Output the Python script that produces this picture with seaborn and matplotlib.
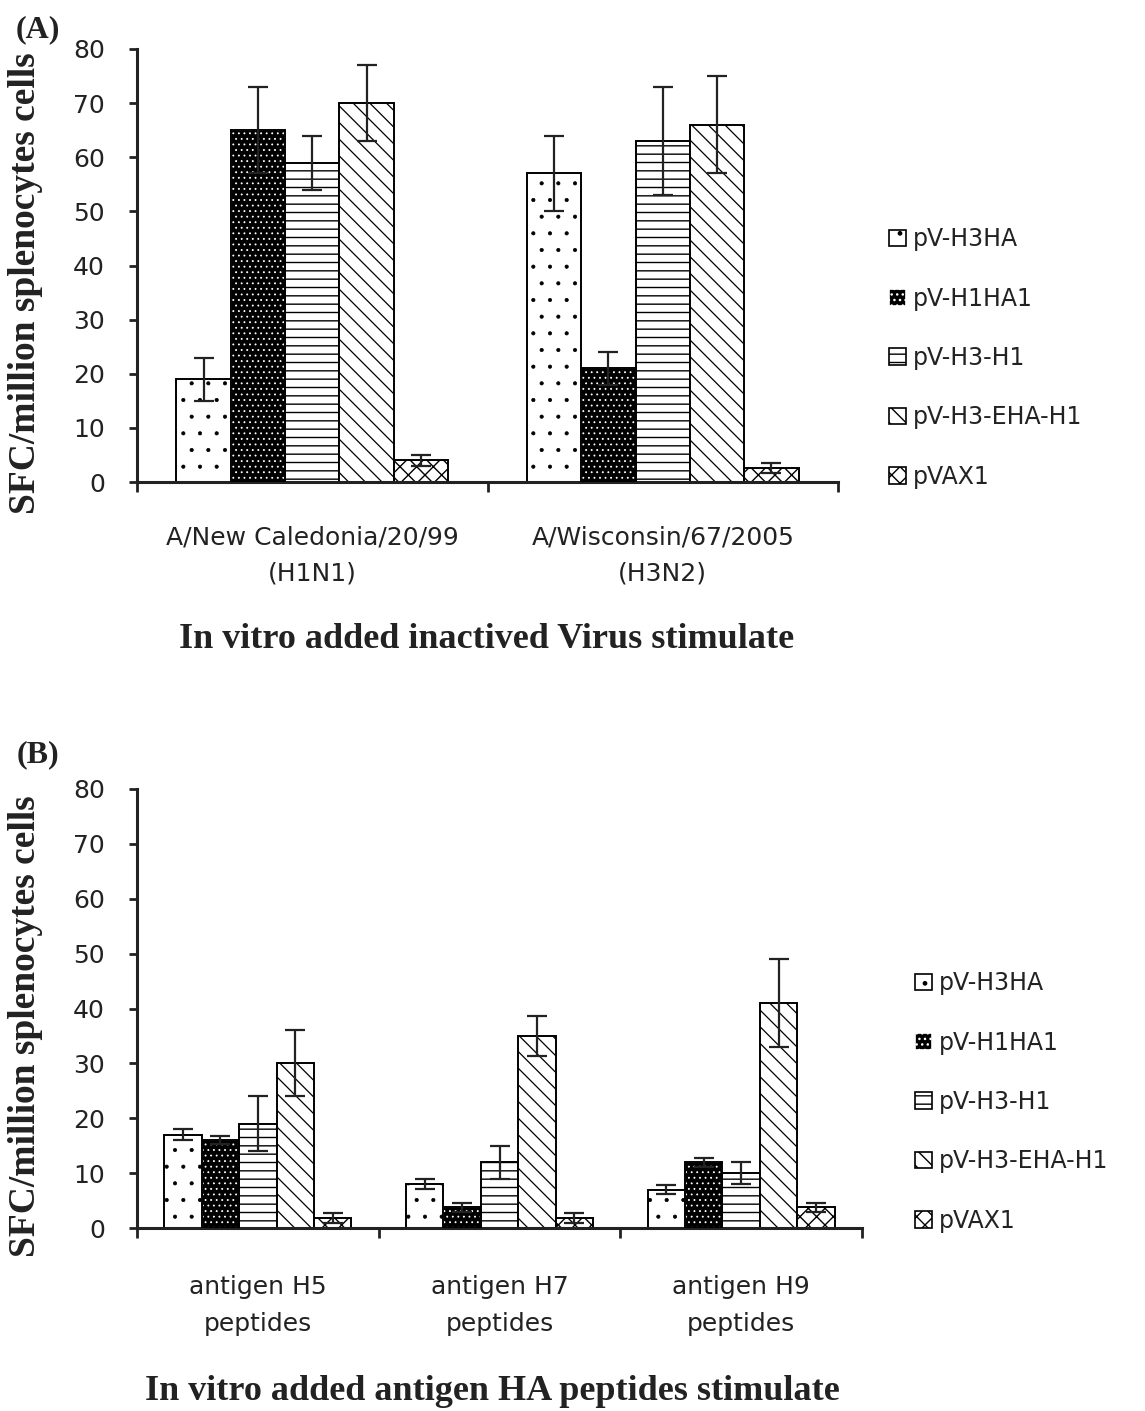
import numpy as np
import pandas as pd
import seaborn as sns
import matplotlib.pyplot as plt
from matplotlib.patches import Patch, Rectangle

vaccines = ["pV-H3HA", "pV-H1HA1", "pV-H3-H1", "pV-H3-EHA-H1", "pVAX1"]

# panel A - inactivated virus
virus_groups = ["A/New Caledonia/20/99\n(H1N1)", "A/Wisconsin/67/2005\n(H3N2)"]
virus_means = [[19, 57], [65, 21], [59, 63], [70, 66], [4, 2.6]]
virus_err = [[4, 7], [8, 3], [5, 10], [7, 9], [1, 0.9]]

# panel B - HA peptides
peptide_groups = ["antigen H5\npeptides", "antigen H7\npeptides", "antigen H9\npeptides"]
peptide_means = [[17, 8, 7], [16, 3.8, 12], [19, 12, 10], [30, 35, 41], [1.9, 1.9, 3.8]]
peptide_err = [[1, 0.9, 0.8], [0.7, 0.8, 0.8], [5, 3, 2], [6, 3.6, 8], [0.9, 0.9, 0.8]]

y_ticks = [0, 10, 20, 30, 40, 50, 60, 70, 80]

face = ["white", "black", "white", "white", "white"]
edge = ["black", "white", "black", "black", "black"]
hatch = [".", "...", "--", "\\\\", "xx"]
hatch_lw = [0.5, 0.6, 1.0, 0.9, 1.0]

sns.set_style("ticks")
plt.rcParams['font.family'] = ['DejaVu Sans']
plt.rcParams['hatch.linewidth'] = 1.0
serif = ['Liberation Serif', 'DejaVu Serif']
ink = "#222222"


def set_hlw(p, lw):
    if hasattr(p, "set_hatch_linewidth"):
        p.set_hatch_linewidth(lw)
    else:
        p._hatch_linewidth = lw


def draw_panel(ax, groups, means, errs, legend_anchor, xpad):
    rows = []
    for v, vals in zip(vaccines, means):
        for g, m in zip(groups, vals):
            rows.append({"group": g, "vaccine": v, "value": m})
    df = pd.DataFrame(rows)
    sns.barplot(data=df, x="group", y="value", hue="vaccine", order=groups,
                hue_order=vaccines, palette=face, errorbar=None, width=0.775,
                edgecolor="black", linewidth=1.4, legend=False, ax=ax)
    bar_sets = list(ax.containers)
    for i, cont in enumerate(bar_sets):
        xs = []
        for p in cont.patches:
            p.set_facecolor(face[i])
            p.set_edgecolor(edge[i])
            p.set_hatch(hatch[i])
            set_hlw(p, hatch_lw[i])
            xs.append(p.get_x() + p.get_width() / 2)
            if edge[i] != "black":
                ax.add_patch(Rectangle((p.get_x(), 0), p.get_width(), p.get_height(),
                                       fill=False, edgecolor="black", linewidth=1.4, zorder=3))
        ax.errorbar(xs, means[i], yerr=errs[i], fmt="none", ecolor=ink,
                    elinewidth=1.6, capsize=7, capthick=1.6, zorder=5)

    n = len(groups)
    ax.set_xlim(-0.5, n - 0.5)
    ax.set_ylim(0, 80)
    ax.set_yticks(y_ticks)
    ax.tick_params(axis="y", direction="out", length=6, width=2, labelsize=18,
                   colors=ink, pad=17)
    ax.set_xticks(range(n))
    ax.set_xticklabels(groups, fontsize=18, color=ink, linespacing=1.65)
    ax.tick_params(axis="x", which="major", length=0, pad=xpad)
    ax.set_xticks(np.arange(-0.5, n, 1.0), minor=True)
    ax.tick_params(axis="x", which="minor", direction="out", length=7, width=2, color=ink)
    ax.set_xlabel("")
    ax.set_ylabel("")
    sns.despine(ax=ax)
    for s in ["left", "bottom"]:
        ax.spines[s].set_linewidth(2.2)
        ax.spines[s].set_color(ink)

    handles = []
    for i in range(len(vaccines)):
        h = Patch(facecolor=face[i], edgecolor=edge[i], hatch=hatch[i], linewidth=1.2)
        set_hlw(h, hatch_lw[i])
        handles.append(h)
    fig.legend(handles, vaccines, loc="center left", bbox_to_anchor=legend_anchor,
               frameon=False, fontsize=17, labelspacing=1.5, handlelength=0.7,
               handleheight=0.7, handletextpad=0.3, borderpad=0, borderaxespad=0,
               labelcolor=ink)


fig = plt.figure(figsize=(11.45, 14.11), dpi=100)
ax_a = fig.add_axes([137 / 1145, 1 - 482 / 1411, 701 / 1145, 433 / 1411])
ax_b = fig.add_axes([137 / 1145, 1 - 1228 / 1411, 725 / 1145, 439 / 1411])

draw_panel(ax_a, virus_groups, virus_means, virus_err, (889 / 1145, 1 - 358 / 1411), 31)
draw_panel(ax_b, peptide_groups, peptide_means, peptide_err, (915 / 1145, 1 - 1102 / 1411), 34)

ylab = "SFC/million splenocytes cells"
fig.text(26 / 1145, 1 - 283 / 1411, ylab, rotation=90, ha="center", va="center",
         fontsize=27, fontweight="bold", family=serif, color=ink)
fig.text(26 / 1145, 1 - 1026 / 1411, ylab, rotation=90, ha="center", va="center",
         fontsize=27, fontweight="bold", family=serif, color=ink)

fig.text(38 / 1145, 1 - 30 / 1411, "(A)", ha="center", va="center",
         fontsize=23, fontweight="bold", family=serif, color=ink)
fig.text(38 / 1145, 1 - 755 / 1411, "(B)", ha="center", va="center",
         fontsize=23, fontweight="bold", family=serif, color=ink)

fig.text(487 / 1145, 1 - 640 / 1411, "In vitro added inactived Virus stimulate",
         ha="center", va="center", fontsize=26, fontweight="bold", family=serif, color=ink)
fig.text(492 / 1145, 1 - 1392 / 1411, "In vitro added antigen HA peptides stimulate",
         ha="center", va="center", fontsize=26, fontweight="bold", family=serif, color=ink)

fig.savefig("out.png", dpi=100, facecolor="white")
